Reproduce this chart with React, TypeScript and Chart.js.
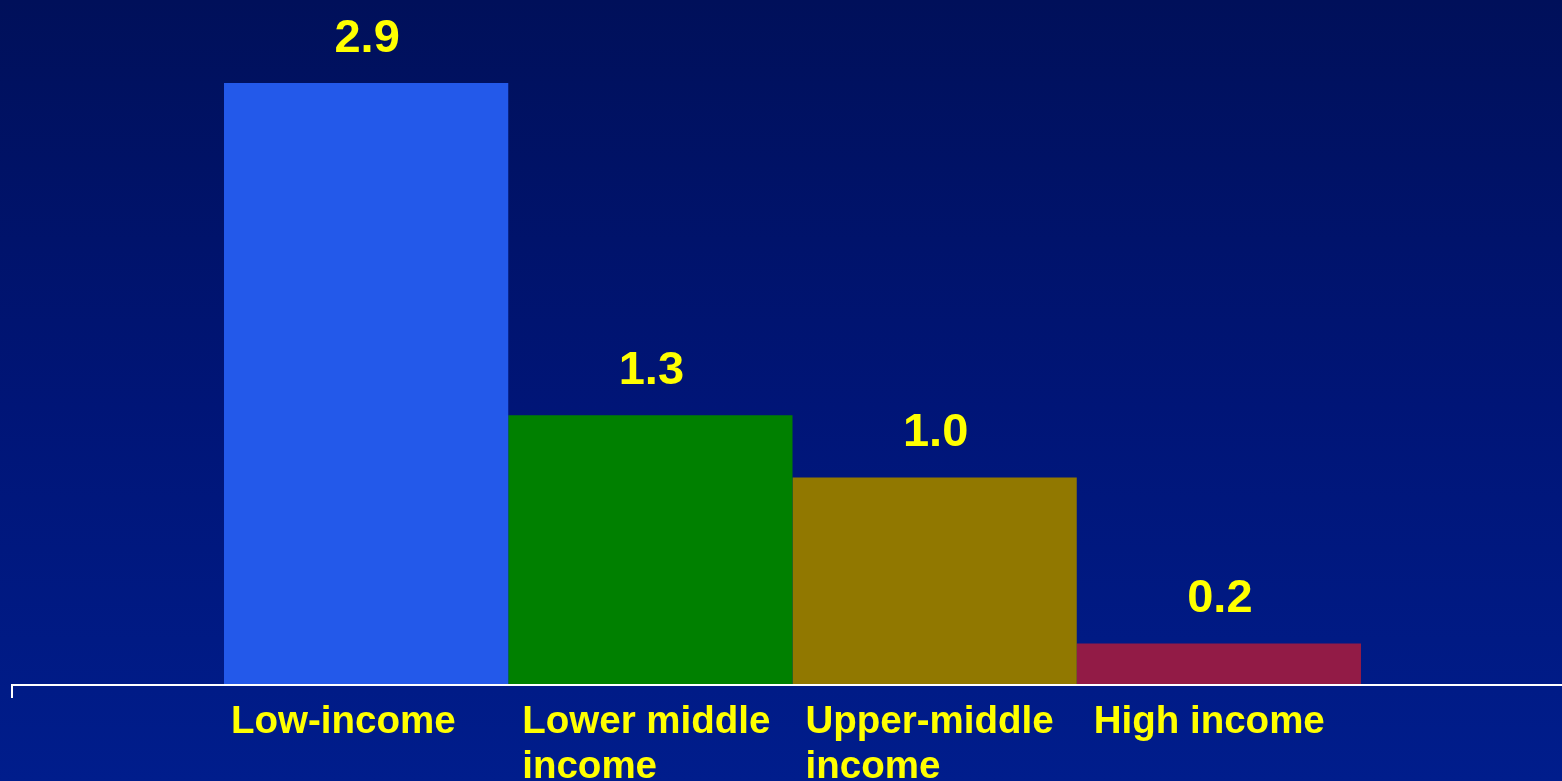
import React, { useEffect, useRef } from "react";
import { Chart, registerables } from "chart.js";

Chart.register(...registerables);

// Income groups, one bar each
const incomeGroups: string[][] = [
  ["Low-income"],
  ["Lower middle", "income"],
  ["Upper-middle", "income"],
  ["High income"],
];
const values: number[] = [2.9, 1.3, 1.0, 0.2];
const barColors: string[] = ["#2359ea", "#008000", "#917800", "#921b46"];

const FONT = '"Liberation Sans", Arial, sans-serif';
const YELLOW = "#ffff00";
// horizontal inset of each group label from its bar's left edge
const labelInsets = [7, 14, 13, 17];

const annotate = {
  id: "annotate",
  afterDatasetsDraw(chart: any) {
    const { ctx, chartArea } = chart;
    const axisY = chartArea.bottom;

    // baseline and left tick
    ctx.save();
    ctx.strokeStyle = "#ffffff";
    ctx.lineWidth = 2;
    ctx.beginPath();
    ctx.moveTo(11, axisY);
    ctx.lineTo(chart.width, axisY);
    ctx.moveTo(12, axisY);
    ctx.lineTo(12, axisY + 13);
    ctx.stroke();

    ctx.fillStyle = YELLOW;
    chart.data.datasets.forEach((ds: any, i: number) => {
      const bar = chart.getDatasetMeta(i).data[0];
      const v = ds.data[0] as number;
      // value above the bar
      ctx.font = `bold 47px ${FONT}`;
      ctx.textAlign = "center";
      ctx.textBaseline = "alphabetic";
      ctx.fillText(v.toFixed(1), bar.x + 1, bar.y - 31);

      // group name under the axis
      const left = bar.x - bar.width / 2 + labelInsets[i];
      ctx.font = `bold 38.5px ${FONT}`;
      ctx.textAlign = "left";
      incomeGroups[i].forEach((line, k) => {
        ctx.fillText(line, left, axisY + 48 + k * 45);
      });
    });
    ctx.restore();
  },
};

export default function App() {
  const ref = useRef<HTMLCanvasElement>(null);

  useEffect(() => {
    document.body.style.margin = "0";
    const chart = new Chart(ref.current!, {
      type: "bar",
      data: {
        labels: [""],
        datasets: values.map((v, i) => ({
          label: incomeGroups[i].join(" "),
          data: [v],
          backgroundColor: barColors[i],
          borderWidth: 0,
          categoryPercentage: 0.7388,
          barPercentage: 1,
        })),
      },
      options: {
        animation: false,
        responsive: false,
        layout: { padding: { left: 23, right: 0, top: 0, bottom: 96 } },
        plugins: { legend: { display: false }, tooltip: { enabled: false } },
        scales: {
          x: { display: false },
          y: { display: false, min: 0, max: 3.3 },
        },
      },
      plugins: [annotate],
    });
    return () => chart.destroy();
  }, []);

  return (
    <div
      style={{
        width: 1562,
        height: 781,
        background: "linear-gradient(to bottom, #00105a 0%, #001577 52%, #001d8c 100%)",
      }}
    >
      <canvas ref={ref} width={1562} height={781} />
    </div>
  );
}
